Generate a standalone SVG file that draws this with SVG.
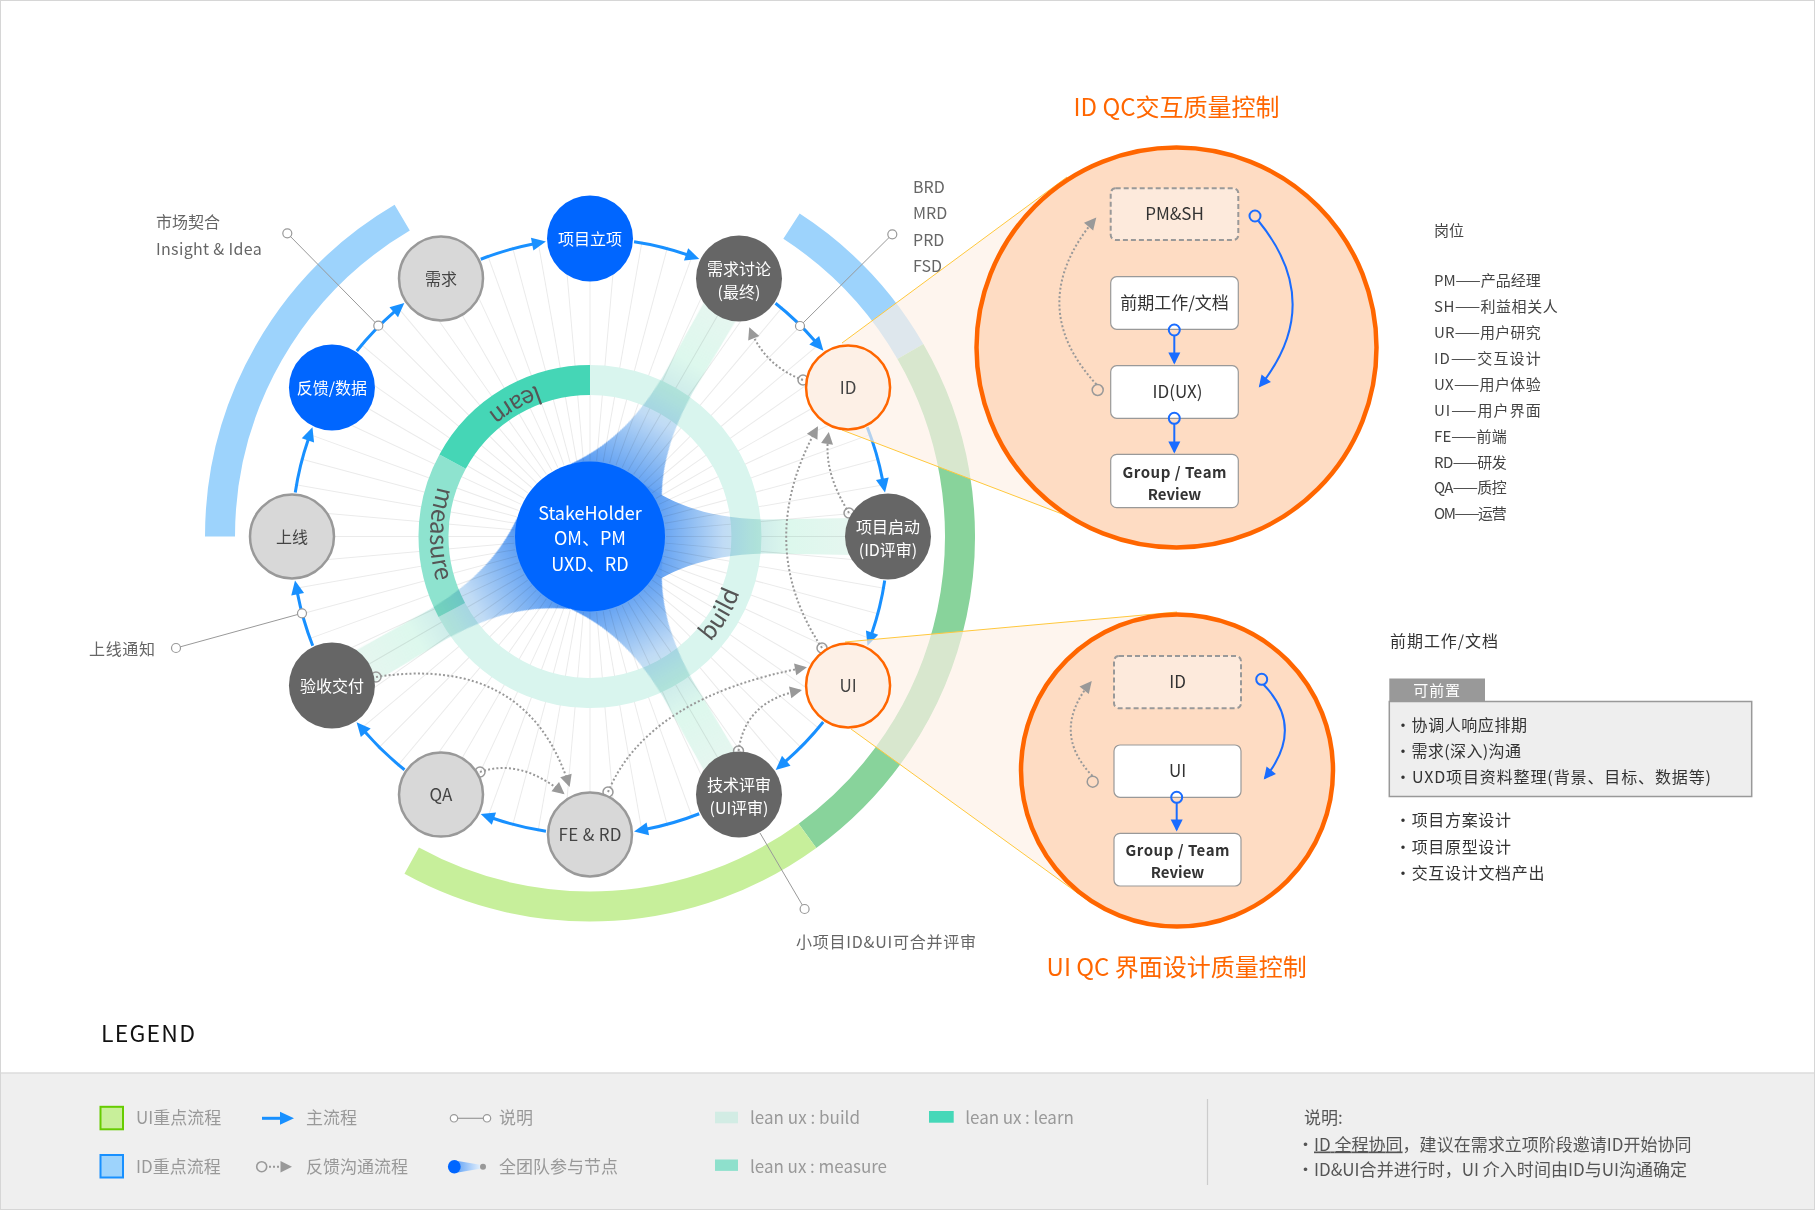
<svg xmlns="http://www.w3.org/2000/svg" xmlns:xlink="http://www.w3.org/1999/xlink" width="1815" height="1210" viewBox="0 0 1815 1210">
<defs>
<style>
text{font-family:'Noto Sans CJK SC','Noto Sans',sans-serif}
.sp line,.sp use{stroke:#ebebeb;stroke-width:1}
.arc{fill:none;stroke-width:30}
.ma{fill:none;stroke:#1890ff;stroke-width:3;marker-end:url(#mb)}
.fb{fill:none;stroke:#999;stroke-width:2;stroke-dasharray:2 2.2;marker-end:url(#mg)}
.fc{fill:none;stroke:#999;stroke-width:1.5}
.an{stroke:#999;stroke-width:1;fill:none}
.ac{fill:#fff;stroke:#999;stroke-width:1.2}
.nb{fill:#0066ff}
.nk{fill:#666}
.nl{fill:#d8d8d8;stroke:#999;stroke-width:2.5}
.no{fill:#fdf0e6;stroke:#ff6600;stroke-width:2.5}
.lw{fill:#fff;font-size:16px;text-anchor:middle}
.ld{fill:#444;font-size:16px;text-anchor:middle}
.le{fill:#444;font-size:17px;text-anchor:middle}
.box{fill:#fff;stroke:#999;stroke-width:1.2}
.dbox{fill:#fdeadc;stroke:#999;stroke-width:2;stroke-dasharray:5 3}
.bt{fill:#333;font-size:17px;text-anchor:middle}
.bb{fill:#333;font-size:15px;font-weight:bold;text-anchor:middle}
.bl{fill:none;stroke:#1a6cff;stroke-width:2}
.blm{fill:none;stroke:#1a6cff;stroke-width:2;marker-end:url(#mbl)}
.cone{fill:#fdf0e6;fill-opacity:0.68}
.yl{stroke:#ffc83d;stroke-width:1}
.ring{fill:#555;font-size:24px}
.lab{fill:#666;font-size:16px}
.role{fill:#444;font-size:15px}
.item{fill:#333;font-size:16px}
.lg{fill:#999;font-size:17px}
.note{fill:#555;font-size:17px}
.ttl{fill:#ff6600;font-size:24px;text-anchor:middle}
</style>
<marker id="mb" markerUnits="userSpaceOnUse" markerWidth="16" markerHeight="14" refX="1" refY="7" orient="auto" overflow="visible"><path d="M0,0.5 L14,7 L0,13.5 Z" fill="#1890ff"/></marker>
<marker id="mg" markerUnits="userSpaceOnUse" markerWidth="14" markerHeight="14" refX="10" refY="6" orient="auto" overflow="visible"><path d="M0,0 L12,6 L0,12 Z" fill="#999"/></marker>
<marker id="mbl" markerUnits="userSpaceOnUse" markerWidth="14" markerHeight="14" refX="10" refY="6" orient="auto" overflow="visible"><path d="M0,0 L12,6 L0,12 Z" fill="#1a6cff"/></marker>
<linearGradient id="fg" gradientUnits="userSpaceOnUse" x1="40" y1="0" x2="292" y2="0">
<stop offset="0" stop-color="#3b85f3"/>
<stop offset="0.1" stop-color="#5d9ef3"/>
<stop offset="0.24" stop-color="#8fbdf3"/>
<stop offset="0.37" stop-color="#c0dbf5"/>
<stop offset="0.5" stop-color="#cdebea"/>
<stop offset="0.64" stop-color="#ddf8ed"/>
<stop offset="1" stop-color="#eaf5f1"/>
</linearGradient>
<linearGradient id="lgf" x1="0" y1="0" x2="1" y2="0">
<stop offset="0" stop-color="#5c9ff5"/>
<stop offset="1" stop-color="#e0eefc"/>
</linearGradient>
<path id="fan" d="M53,-53 C75,-38 110,-18 175,-17 L292,-19 L292,19 L175,17 C110,18 75,38 53,53 Z"/>
<path id="lp" d="M750,536.5 A160,160 0 1,0 430,536.5 A160,160 0 1,0 750,536.5"/>
</defs>

<rect x="0" y="0" width="1815" height="1210" fill="#fff"/>

<!-- spokes -->
<g class="sp" transform="translate(590 536.5)">
<line id="sp" x1="76" y1="0" x2="300" y2="0"/>
<use href="#sp" transform="rotate(5)"/><use href="#sp" transform="rotate(10)"/><use href="#sp" transform="rotate(15)"/><use href="#sp" transform="rotate(20)"/><use href="#sp" transform="rotate(25)"/><use href="#sp" transform="rotate(30)"/><use href="#sp" transform="rotate(35)"/><use href="#sp" transform="rotate(40)"/><use href="#sp" transform="rotate(45)"/><use href="#sp" transform="rotate(50)"/><use href="#sp" transform="rotate(55)"/><use href="#sp" transform="rotate(60)"/><use href="#sp" transform="rotate(65)"/><use href="#sp" transform="rotate(70)"/><use href="#sp" transform="rotate(75)"/><use href="#sp" transform="rotate(80)"/><use href="#sp" transform="rotate(85)"/><use href="#sp" transform="rotate(90)"/><use href="#sp" transform="rotate(95)"/><use href="#sp" transform="rotate(100)"/><use href="#sp" transform="rotate(105)"/><use href="#sp" transform="rotate(110)"/><use href="#sp" transform="rotate(115)"/><use href="#sp" transform="rotate(120)"/><use href="#sp" transform="rotate(125)"/><use href="#sp" transform="rotate(130)"/><use href="#sp" transform="rotate(135)"/><use href="#sp" transform="rotate(140)"/><use href="#sp" transform="rotate(145)"/><use href="#sp" transform="rotate(150)"/><use href="#sp" transform="rotate(155)"/><use href="#sp" transform="rotate(160)"/><use href="#sp" transform="rotate(165)"/><use href="#sp" transform="rotate(170)"/><use href="#sp" transform="rotate(175)"/><use href="#sp" transform="rotate(180)"/><use href="#sp" transform="rotate(185)"/><use href="#sp" transform="rotate(190)"/><use href="#sp" transform="rotate(195)"/><use href="#sp" transform="rotate(200)"/><use href="#sp" transform="rotate(205)"/><use href="#sp" transform="rotate(210)"/><use href="#sp" transform="rotate(215)"/><use href="#sp" transform="rotate(220)"/><use href="#sp" transform="rotate(225)"/><use href="#sp" transform="rotate(230)"/><use href="#sp" transform="rotate(235)"/><use href="#sp" transform="rotate(240)"/><use href="#sp" transform="rotate(245)"/><use href="#sp" transform="rotate(250)"/><use href="#sp" transform="rotate(255)"/><use href="#sp" transform="rotate(260)"/><use href="#sp" transform="rotate(265)"/><use href="#sp" transform="rotate(270)"/><use href="#sp" transform="rotate(275)"/><use href="#sp" transform="rotate(280)"/><use href="#sp" transform="rotate(285)"/><use href="#sp" transform="rotate(290)"/><use href="#sp" transform="rotate(295)"/><use href="#sp" transform="rotate(300)"/><use href="#sp" transform="rotate(305)"/><use href="#sp" transform="rotate(310)"/><use href="#sp" transform="rotate(315)"/><use href="#sp" transform="rotate(320)"/><use href="#sp" transform="rotate(325)"/><use href="#sp" transform="rotate(330)"/><use href="#sp" transform="rotate(335)"/><use href="#sp" transform="rotate(340)"/><use href="#sp" transform="rotate(345)"/><use href="#sp" transform="rotate(350)"/><use href="#sp" transform="rotate(355)"/>
</g>

<!-- lean ux ring -->
<g id="lean-ring">
<path class="arc" stroke="#d9f5ee" d="M590,380 A156.5,156.5 0 1,1 451.8,610"/>
<path class="arc" stroke="#8ee3cf" d="M451.8,610 A156.5,156.5 0 0,1 452.6,461.6"/>
<path class="arc" stroke="#45d6b6" d="M452.6,461.6 A156.5,156.5 0 0,1 590,380"/>
</g>

<!-- team fans -->
<g id="fans" style="mix-blend-mode:multiply">
<use href="#fan" fill="url(#fg)" transform="translate(590 536.5) rotate(-60)"/>
<use href="#fan" fill="url(#fg)" transform="translate(590 536.5)"/>
<use href="#fan" fill="url(#fg)" transform="translate(590 536.5) rotate(60)"/>
<use href="#fan" fill="url(#fg)" transform="translate(590 536.5) rotate(150)"/>
</g>

<g id="ring-labels">
<text class="ring" text-anchor="middle"><textPath href="#lp" startOffset="333.4">learn</textPath></text>
<text class="ring" text-anchor="middle"><textPath href="#lp" startOffset="499.9">measure</textPath></text>
<text class="ring" text-anchor="middle"><textPath href="#lp" startOffset="918.7">build</textPath></text>
</g>

<!-- outer process arcs -->
<g id="outer-arcs">
<path class="arc" stroke="#9dd3fc" d="M220,536.5 A370,370 0 0,1 402.2,217.7"/>
<path class="arc" stroke="#9dd3fc" d="M791.5,226.2 A370,370 0 0,1 910.4,351.5"/>
<path class="arc" stroke="#88d39b" d="M910.4,351.5 A370,370 0 0,1 807.5,835.8"/>
<path class="arc" stroke="#c7ef9b" d="M807.5,835.8 A370,370 0 0,1 411.7,860.7"/>
</g>

<!-- connectors -->
<g id="connectors">
<g id="main-flow">
<path class="ma" d="M634.05,241.77 A298,298 0 0,1 687.02,254.74"/>
<path class="ma" d="M634.05,241.77 A298,298 0 0,1 687.02,254.74" transform="rotate(30 590 536.5)"/>
<path class="ma" d="M634.05,241.77 A298,298 0 0,1 687.02,254.74" transform="rotate(60 590 536.5)"/>
<path class="ma" d="M634.05,241.77 A298,298 0 0,1 687.02,254.74" transform="rotate(90 590 536.5)"/>
<path class="ma" d="M634.05,241.77 A298,298 0 0,1 687.02,254.74" transform="rotate(120 590 536.5)"/>
<path class="ma" d="M634.05,241.77 A298,298 0 0,1 687.02,254.74" transform="rotate(150 590 536.5)"/>
<path class="ma" d="M634.05,241.77 A298,298 0 0,1 687.02,254.74" transform="rotate(180 590 536.5)"/>
<path class="ma" d="M634.05,241.77 A298,298 0 0,1 687.02,254.74" transform="rotate(210 590 536.5)"/>
<path class="ma" d="M634.05,241.77 A298,298 0 0,1 687.02,254.74" transform="rotate(240 590 536.5)"/>
<path class="ma" d="M634.05,241.77 A298,298 0 0,1 687.02,254.74" transform="rotate(270 590 536.5)"/>
<path class="ma" d="M634.05,241.77 A298,298 0 0,1 687.02,254.74" transform="rotate(300 590 536.5)"/>
<path class="ma" d="M634.05,241.77 A298,298 0 0,1 687.02,254.74" transform="rotate(330 590 536.5)"/>
</g>
<g id="feedback">
<path class="fb" d="M803,380 Q765,366 750,329"/>
<circle class="fc" cx="803" cy="380" r="5"/>
<path class="fb" d="M849,513 C835,490 824,465 828.5,434"/>
<circle class="fc" cx="849" cy="513" r="5"/>
<path class="fb" d="M822,648 Q753,544 817,428"/>
<circle class="fc" cx="822" cy="648" r="5"/>
<path class="fb" d="M376,677 Q527,654 569,785"/>
<circle class="fc" cx="376" cy="677" r="5"/>
<path class="fb" d="M480,772 Q520,758 563,793"/>
<circle class="fc" cx="480" cy="772" r="5"/>
<path class="fb" d="M608,792 Q648,697 805,667.5"/>
<circle class="fc" cx="608" cy="792" r="5"/>
<path class="fb" d="M738.5,751 Q745,701 800,690.5"/>
<circle class="fc" cx="738.5" cy="751" r="5"/>
</g>
<g id="annotations">
<line class="an" x1="287.3" y1="233.3" x2="378.3" y2="325.7"/>
<circle class="ac" cx="287.3" cy="233.3" r="4.5"/>
<circle class="ac" cx="378.3" cy="325.7" r="4.5"/>
<line class="an" x1="892.3" y1="234.3" x2="800" y2="326"/>
<circle class="ac" cx="892.3" cy="234.3" r="4.5"/>
<circle class="ac" cx="800" cy="326" r="4.5"/>
<line class="an" x1="176" y1="648" x2="302" y2="613.3"/>
<circle class="ac" cx="176" cy="648" r="4.5"/>
<circle class="ac" cx="302" cy="613.3" r="4.5"/>
<line class="an" x1="760" y1="833" x2="802.3" y2="905"/>
<circle class="ac" cx="804.6" cy="909" r="4.5"/>
</g>
</g>

<!-- zoom cones -->
<g id="cones">
<polygon class="cone" points="842,343 1067,177 1070,517 842,430"/>
<line class="yl" x1="842" y1="343" x2="1067" y2="177"/>
<line class="yl" x1="842" y1="430" x2="1070" y2="517"/>
<polygon class="cone" points="845,642 1177,612 1090,902 851,729"/>
<line class="yl" x1="845" y1="642" x2="1177" y2="612"/>
<line class="yl" x1="851" y1="729" x2="1090" y2="902"/>
</g>

<!-- ID QC panel -->
<g id="id-qc">
<text class="ttl" x="1176.5" y="115.5">ID QC交互质量控制</text>
<circle cx="1176.5" cy="347.5" r="200" fill="#fedcc3" stroke="#ff6600" stroke-width="4.5"/>
<g id="id-qc-pmsh"><rect class="dbox" x="1110.7" y="188.3" width="127.6" height="51.7" rx="5"/><text class="bt" x="1174.5" y="220">PM&amp;SH</text></g>
<g id="id-qc-doc"><rect class="box" x="1110.7" y="276.7" width="127.6" height="52.6" rx="6"/><text class="bt" x="1174.5" y="309">前期工作/文档</text></g>
<g id="id-qc-idux"><rect class="box" x="1110.7" y="365.7" width="127.6" height="52.6" rx="6"/><text class="bt" x="1177.5" y="398">ID(UX)</text></g>
<g id="id-qc-review"><rect class="box" x="1110.7" y="454.3" width="127.6" height="53.4" rx="6"/><text class="bb" x="1174.5" y="477.5" textLength="104">Group / Team</text><text class="bb" x="1174.5" y="499.5">Review</text></g>
<g id="id-qc-links">
<line class="blm" x1="1174.3" y1="335.5" x2="1174.3" y2="362.5"/>
<circle class="bl" cx="1174.3" cy="330" r="5.5"/>
<line class="blm" x1="1174.3" y1="424" x2="1174.3" y2="451.5"/>
<circle class="bl" cx="1174.3" cy="418.3" r="5.5"/>
<path class="blm" d="M1258.5,221 Q1326,303.5 1260,386"/>
<circle class="bl" cx="1255" cy="216" r="5.5"/>
<path class="fb" d="M1096.5,384.5 Q1023,305 1095,219"/>
<circle class="fc" cx="1097.7" cy="390" r="5.5"/>
</g>
</g>

<!-- UI QC panel -->
<g id="ui-qc">
<circle cx="1177" cy="770.5" r="156" fill="#fedcc3" stroke="#ff6600" stroke-width="4.5"/>
<g id="ui-qc-id"><rect class="dbox" x="1114" y="656" width="127" height="52.3" rx="5"/><text class="bt" x="1177.5" y="688">ID</text></g>
<g id="ui-qc-ui"><rect class="box" x="1114" y="745" width="127" height="52.3" rx="6"/><text class="bt" x="1177.5" y="777">UI</text></g>
<g id="ui-qc-review"><rect class="box" x="1114" y="833.3" width="127" height="52.7" rx="6"/><text class="bb" x="1177.5" y="855.5" textLength="104">Group / Team</text><text class="bb" x="1177.5" y="877.5">Review</text></g>
<g id="ui-qc-links">
<line class="blm" x1="1176.7" y1="803" x2="1176.7" y2="829.5"/>
<circle class="bl" cx="1176.7" cy="797.3" r="5.5"/>
<path class="blm" d="M1263.5,684.5 Q1305.5,727.5 1265,778"/>
<circle class="bl" cx="1261.7" cy="679.3" r="5.5"/>
<path class="fb" d="M1092.5,776 Q1050,732 1090.5,682.5"/>
<circle class="fc" cx="1092.7" cy="781.7" r="5.5"/>
</g>
<text class="ttl" x="1176.7" y="976">UI QC 界面设计质量控制</text>
</g>

<!-- nodes -->
<g id="n-lixiang"><circle class="nb" cx="590" cy="238.5" r="43"/><text class="lw" x="590" y="244.5">项目立项</text></g>
<g id="n-taolun"><circle class="nk" cx="739" cy="278.4" r="43"/><text class="lw" x="739" y="275">需求讨论</text><text class="lw" x="739" y="297.5">(最终)</text></g>
<g id="n-id"><circle class="no" cx="848.07" cy="387.5" r="42"/><text class="le" x="848.07" y="393.5">ID</text></g>
<g id="n-qidong"><circle class="nk" cx="888" cy="536.5" r="43"/><text class="lw" x="888" y="533">项目启动</text><text class="lw" x="888" y="555.5">(ID评审)</text></g>
<g id="n-ui"><circle class="no" cx="848.07" cy="685.5" r="42"/><text class="le" x="848.07" y="691.5">UI</text></g>
<g id="n-jishu"><circle class="nk" cx="739" cy="794.57" r="43"/><text class="lw" x="739" y="791">技术评审</text><text class="lw" x="739" y="813.5">(UI评审)</text></g>
<g id="n-ferd"><circle class="nl" cx="590" cy="834.5" r="42"/><text class="le" x="590" y="840.5" textLength="63">FE &amp; RD</text></g>
<g id="n-qa"><circle class="nl" cx="441" cy="794.57" r="42"/><text class="le" x="441" y="800.5">QA</text></g>
<g id="n-yanshou"><circle class="nk" cx="331.93" cy="685.5" r="43"/><text class="lw" x="331.93" y="691.5">验收交付</text></g>
<g id="n-shangxian"><circle class="nl" cx="292" cy="536.5" r="42"/><text class="ld" x="292" y="542.5">上线</text></g>
<g id="n-fankui"><circle class="nb" cx="331.93" cy="387.5" r="43"/><text class="lw" x="331.93" y="393.5">反馈/数据</text></g>
<g id="n-xuqiu"><circle class="nl" cx="441" cy="278.43" r="42"/><text class="ld" x="441" y="284.5">需求</text></g>
<g id="n-stakeholder"><circle class="nb" cx="590" cy="536.5" r="75"/>
<text x="590" y="519.5" fill="#fff" font-size="18" text-anchor="middle">StakeHolder</text>
<text x="590" y="545" fill="#fff" font-size="18" text-anchor="middle">OM、PM</text>
<text x="590" y="571" fill="#fff" font-size="18" text-anchor="middle">UXD、RD</text></g>

<!-- annotation texts -->
<g id="notes">
<text class="lab" x="156" y="228">市场契合</text>
<text class="lab" x="156" y="255" textLength="105.7">Insight &amp; Idea</text>
<text class="lab" x="913" y="193.3" font-size="17">BRD</text>
<text class="lab" x="913" y="219.3" font-size="17">MRD</text>
<text class="lab" x="913" y="245.5" font-size="17">PRD</text>
<text class="lab" x="913" y="271.5" font-size="17">FSD</text>
<text class="lab" x="89" y="655" fill="#555" textLength="66">上线通知</text>
<text class="lab" x="796" y="947.5" fill="#555" textLength="180">小项目ID&amp;UI可合并评审</text>
</g>

<!-- roles -->
<g id="roles">
<text class="role" x="1434" y="236" font-size="16">岗位</text>
<text class="role" x="1434" y="286" textLength="106.7">PM——产品经理</text>
<text class="role" x="1434" y="312" textLength="123.7">SH——利益相关人</text>
<text class="role" x="1434" y="338" textLength="106.7">UR——用户研究</text>
<text class="role" x="1434" y="364" textLength="106.7">ID——交互设计</text>
<text class="role" x="1434" y="389.5" textLength="106.7">UX——用户体验</text>
<text class="role" x="1434" y="415.5" textLength="106.7">UI——用户界面</text>
<text class="role" x="1434" y="441.5" textLength="72.7">FE——前端</text>
<text class="role" x="1434" y="467.5" textLength="72.7">RD——研发</text>
<text class="role" x="1434" y="493" textLength="72.7">QA——质控</text>
<text class="role" x="1434" y="519" textLength="72.7">OM——运营</text>
</g>

<!-- pre-work panel -->
<g id="prework">
<text class="item" x="1390" y="647" fill="#444" textLength="108">前期工作/文档</text>
<rect x="1389.3" y="701.5" width="362.4" height="95" fill="#eee" stroke="#999" stroke-width="1.5"/>
<rect x="1389.3" y="678.5" width="95.7" height="23" fill="#999"/>
<text x="1413.3" y="695.5" fill="#fff" font-size="15" textLength="46.7">可前置</text>
<text class="item" x="1395" y="731" textLength="132">·协调人响应排期</text>
<text class="item" x="1395" y="757" textLength="126">·需求(深入)沟通</text>
<text class="item" x="1395" y="782.5" textLength="316">·UXD项目资料整理(背景、目标、数据等)</text>
<text class="item" x="1395" y="826" textLength="116">·项目方案设计</text>
<text class="item" x="1395" y="852.5" textLength="116">·项目原型设计</text>
<text class="item" x="1395" y="878.5" textLength="149.5">·交互设计文档产出</text>
</g>

<!-- legend -->
<g id="legend">
<text x="101" y="1041.7" fill="#111" font-size="23" textLength="94">LEGEND</text>
<rect x="0" y="1073" width="1815" height="137" fill="#efefef"/>
<line x1="0" y1="1073" x2="1815" y2="1073" stroke="#dcdcdc" stroke-width="1.5"/>
<rect x="100.5" y="1106.8" width="22.5" height="22.5" fill="#c8ef9a" stroke="#66cc00" stroke-width="2"/>
<text class="lg" x="136" y="1124.3">UI重点流程</text>
<rect x="100.5" y="1155" width="22.5" height="22.5" fill="#9dd3fc" stroke="#1890ff" stroke-width="2"/>
<text class="lg" x="136" y="1172.7">ID重点流程</text>
<line x1="262" y1="1118.3" x2="281" y2="1118.3" stroke="#1890ff" stroke-width="3" marker-end="url(#mb)"/>
<text class="lg" x="306" y="1124.3">主流程</text>
<circle cx="261.7" cy="1166.7" r="5" fill="none" stroke="#999" stroke-width="1.6"/>
<line x1="269" y1="1166.7" x2="279" y2="1166.7" stroke="#999" stroke-width="2" stroke-dasharray="2 2"/>
<polygon points="280.5,1161 292,1166.7 280.5,1172.4" fill="#999"/>
<text class="lg" x="306" y="1172.7">反馈沟通流程</text>
<line x1="457.7" y1="1118.3" x2="483.3" y2="1118.3" stroke="#999" stroke-width="1.2"/>
<circle cx="454" cy="1118.3" r="3.7" fill="#fff" stroke="#999" stroke-width="1.2"/>
<circle cx="487" cy="1118.3" r="3.7" fill="#fff" stroke="#999" stroke-width="1.2"/>
<text class="lg" x="499" y="1124.3">说明</text>
<polygon points="455,1160.5 480,1164.7 480,1168.7 455,1172.9" fill="url(#lgf)"/>
<ellipse cx="454.3" cy="1166.7" rx="6.4" ry="6.8" fill="#0066ff"/>
<circle cx="483" cy="1166.7" r="3" fill="#999"/>
<text class="lg" x="499" y="1172.7">全团队参与节点</text>
<rect x="715" y="1111.7" width="23" height="11.6" fill="#d2ece4"/>
<text class="lg" x="750" y="1124.3" textLength="110">lean ux : build</text>
<rect x="715" y="1159.5" width="23" height="11.4" fill="#8ee0cc"/>
<text class="lg" x="750" y="1172.7" textLength="137">lean ux : measure</text>
<rect x="929" y="1111" width="24.7" height="11.7" fill="#45d8b8"/>
<text class="lg" x="965.3" y="1124.3" textLength="108.5">lean ux : learn</text>
<line x1="1207.5" y1="1099" x2="1207.5" y2="1185" stroke="#ccc" stroke-width="1.2"/>
<text class="note" x="1304" y="1124">说明:</text>
<text class="note" x="1297" y="1150.5" textLength="394.5">·<tspan text-decoration="underline">ID 全程协同</tspan>，建议在需求立项阶段邀请ID开始协同</text>
<text class="note" x="1297" y="1175.5" textLength="390">·ID&amp;UI合并进行时，UI 介入时间由ID与UI沟通确定</text>
</g>

<rect x="0.5" y="0.5" width="1814" height="1209" fill="none" stroke="#d6d6d6" stroke-width="1"/>
</svg>
